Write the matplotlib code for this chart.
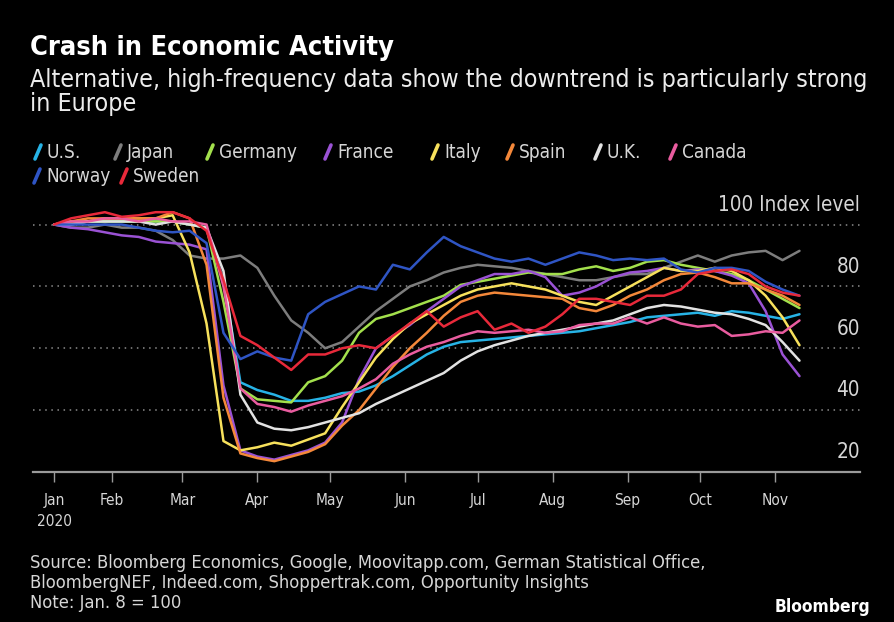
import matplotlib
matplotlib.use("Agg")
import matplotlib.pyplot as plt
from matplotlib.lines import Line2D
import pandas as pd

plt.rcParams["font.family"] = ["DejaVu Sans"]
plt.rcParams["font.stretch"] = "condensed"

W, H = 894, 622

# weekly readings, Jan 8 2020 = 100
dates = pd.date_range("2020-01-08", periods=45, freq="7D")

us = [100, 100, 101, 101, 101, 101, 101, 101, 100, 99, 82, 49, 46.5, 45, 43, 43, 44, 45.5, 46, 48,
      51, 54.5, 58, 60.5, 62, 62.5, 63, 63.5, 64, 64.5, 65, 65.5, 66.5, 67.5, 68.5, 70, 70.5, 71,
      71.5, 70.5, 72, 71.5, 70.5, 69.5, 71]
japan = [100, 99, 99, 100, 99, 99, 98, 95, 90, 89, 89, 90, 86, 77, 69, 65, 60, 62, 67, 72, 76, 80,
         82, 84.5, 86, 87, 86.5, 86, 85, 84, 83, 82, 82, 83, 84, 84, 86, 88, 90, 88, 90, 91, 91.5,
         88.5, 91.5]
germany = [100, 100, 101, 101, 101, 101, 101, 101, 100, 99, 75, 47, 43.5, 43, 42.5, 49, 51, 56, 65,
           69.5, 71, 73, 75, 77, 80.5, 81.5, 82.5, 83.5, 84.5, 84, 84, 85.5, 86.5, 85, 86, 88, 88.5,
           87, 86, 85, 84, 82, 79, 76, 73]
france = [100, 99, 98.5, 97.5, 96.5, 96, 94.5, 94, 93.5, 92, 48, 27, 25, 24, 25.5, 27, 29.5, 36, 50,
          60, 64, 67.5, 72, 76, 80, 82, 84, 84, 85, 83, 77, 78, 80, 83, 84.5, 85, 86, 85, 85.5, 85,
          83.5, 81, 72, 58, 51]
italy = [100, 101, 101, 102, 102, 102, 102, 103, 91, 68, 30, 27, 28, 29.5, 28.5, 30.5, 32.5, 41, 49,
         57, 63, 68, 71, 74, 77, 79, 80, 81, 80, 79, 77, 75, 74, 77, 80, 83, 86, 85, 85, 86, 85, 82,
         77, 70, 61]
spain = [100, 101, 102, 102, 102, 102, 102, 104, 102, 87, 44, 26, 24.5, 23.5, 25, 26.5, 29, 35, 40,
         47, 54, 60, 65, 70.5, 75, 77, 78, 77.5, 77, 76.5, 76, 73, 72, 74, 77, 79, 82, 84, 84.5, 83,
         81, 81, 79, 77, 74]
uk = [100, 100, 101, 101, 101, 101, 100, 101, 100, 99, 85, 45, 36, 34, 33.5, 34.5, 36, 37.5, 39, 42,
      44.5, 47, 49.5, 52, 56, 59, 61, 62.5, 64, 65, 66, 67, 68, 69, 71, 73, 74, 73.5, 72.5, 71.5, 71,
      69.5, 67.5, 62, 56]
canada = [100, 101, 101, 102, 102, 101, 102, 101, 101, 100, 80, 47, 42, 41, 39.5, 41.5, 43, 44.5,
          47, 50, 55, 58, 60.5, 62, 64, 65.5, 65, 65.5, 66, 65, 65.5, 67.5, 68, 68, 70, 68, 70, 68,
          67, 67.5, 64, 64.5, 65.5, 65, 69]
norway = [100, 100, 100, 100, 100, 99, 98, 97.5, 98, 94, 65, 56.5, 59, 57, 56, 71, 75, 77.5, 80,
          79, 87, 85.5, 91, 96, 93, 91, 89, 88, 89, 87, 89, 91, 90, 88.5, 89, 88.5, 89, 85.5, 84.5,
          86, 86, 85, 81.5, 79, 77]
sweden = [100, 102, 103, 104, 102.5, 103, 104, 104, 102, 98, 82, 64, 61, 57, 53, 58, 58, 60, 61,
          60, 64, 68, 72, 67, 70, 72, 66, 68, 65, 67, 71, 76, 76, 75, 74, 77, 77, 79, 84, 85, 85.5,
          84, 80, 78, 77]

names = ["U.S.", "Japan", "Germany", "France", "Italy", "Spain", "U.K.", "Canada", "Norway", "Sweden"]
series = [us, japan, germany, france, italy, spain, uk, canada, norway, sweden]
colors = ["#27b3e6", "#7d7d7d", "#a3e04c", "#9a52d4", "#f7e15c", "#f4883a", "#e2e2e2",
          "#e95c9f", "#2f55c4", "#e8293a"]

month_labels = ["Jan\n2020", "Feb", "Mar", "Apr", "May", "Jun", "Jul", "Aug", "Sep", "Oct", "Nov"]
y_levels = [20, 40, 60, 80, 100]

fig = plt.figure(figsize=(W / 100, H / 100), dpi=100, facecolor="black")
renderer = fig.canvas.get_renderer()


def size_for(s, width_px, weight="normal"):
    t = fig.text(0, 0, s, fontsize=10, fontweight=weight)
    w = t.get_window_extent(renderer).width
    t.remove()
    return 10 * width_px / w


def ftext(x, y, s, size, color="#d6d6d6", **kw):
    fig.text(x / W, 1 - y / H, s, fontsize=size, color=color, va="center", **kw)


ax = fig.add_axes([33 / W, 1 - 472 / H, (860 - 33) / W, (472 - 206) / H])
ax.set_facecolor("black")

for v in y_levels[1:]:
    ax.axhline(v, color="#8c8c8c", lw=1.1, ls=(0, (1, 3)), zorder=0)

for vals, c in zip(series, colors):
    ax.plot(dates, vals, color=c, lw=1.8, solid_joinstyle="round", solid_capstyle="round")

start = dates[0]
ax.set_xlim(start - pd.Timedelta(days=8.7), start + pd.Timedelta(days=333))
ax.set_ylim(20, 106)

ticks = [start] + list(pd.date_range("2020-02-01", "2020-11-01", freq="MS"))
ax.set_xticks(ticks)
tick_size = size_for("Nov", 27)
ax.set_xticklabels(month_labels, fontsize=tick_size, color="#d6d6d6", linespacing=1.55)
ax.tick_params(axis="x", length=7, width=1, color="#9a9a9a", pad=8)
ax.set_yticks([])
for side in ["left", "right", "top"]:
    ax.spines[side].set_visible(False)
ax.spines["bottom"].set_color("#9a9a9a")
ax.spines["bottom"].set_linewidth(1.6)

ysize = size_for("100 Index level", 143)
for v in y_levels:
    lab = "100 Index level" if v == 100 else str(v)
    ax.annotate(lab, xy=(1, v), xycoords=("axes fraction", "data"), xytext=(0, 7),
                textcoords="offset points", ha="right", va="bottom", color="#d6d6d6",
                fontsize=ysize)

# titles
ftext(30, 48, "Crash in Economic Activity", size_for("Crash in Economic Activity", 363, "bold"),
      color="white", fontweight="bold")
sub = "Alternative, high-frequency data show the downtrend is particularly strong"
sub_size = size_for(sub, 838)
ftext(30, 80, sub, sub_size, color="#ececec")
ftext(30, 104, "in Europe", sub_size, color="#ececec")

# legend
leg_size = size_for("Germany", 78)
leg_pos = [(38, 152), (118, 152), (210, 152), (328, 152), (435, 152), (510, 152), (598, 152),
           (673, 152), (37, 176), (124, 176)]
for name, c, (x, y) in zip(names, colors, leg_pos):
    fig.add_artist(Line2D([(x - 3) / W, (x + 3) / W], [1 - (y + 7) / H, 1 - (y - 7) / H],
                          transform=fig.transFigure, color=c, lw=2.6, solid_capstyle="round"))
    ftext(x + 9, y, name, leg_size)

# source
src1 = "Source: Bloomberg Economics, Google, Moovitapp.com, German Statistical Office,"
src_size = size_for(src1, 676)
ftext(30, 563, src1, src_size)
ftext(30, 583, "BloombergNEF, Indeed.com, Shoppertrak.com, Opportunity Insights", src_size)
ftext(30, 603, "Note: Jan. 8 = 100", src_size)
ftext(870, 607, "Bloomberg", size_for("Bloomberg", 95, "bold"), color="white",
      fontweight="bold", ha="right")

fig.savefig("out.png", dpi=100, facecolor="black")
